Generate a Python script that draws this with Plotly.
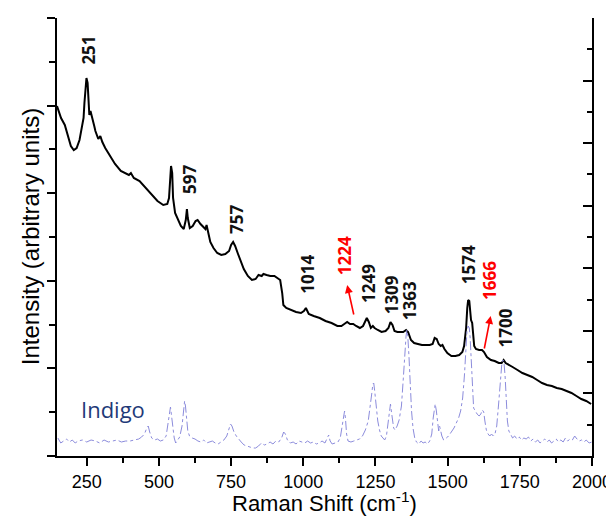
import plotly.graph_objects as go

# Sample spectrum (black)
sample_shift = [147,161,174,184,195,205,215,225,232,239,242,246,249,253,256,259,263,270,276,280,290,297,304,314,331,348,368,386,396,403,413,433,454,474,495,515,529,535,539,542,546,549,556,566,576,586,593,597,600,607,617,627,634,644,655,661,665,672,678,689,702,716,730,743,750,757,764,774,784,794,808,822,835,845,856,862,873,886,900,910,920,927,931,941,958,975,992,1002,1009,1012,1019,1036,1057,1077,1098,1118,1132,1142,1152,1162,1173,1183,1196,1207,1213,1220,1227,1234,1241,1247,1258,1271,1285,1295,1302,1309,1316,1326,1336,1346,1356,1363,1373,1384,1397,1411,1425,1438,1448,1455,1462,1469,1476,1482,1489,1499,1513,1527,1540,1551,1557,1564,1568,1571,1575,1578,1581,1585,1588,1592,1598,1609,1619,1626,1636,1650,1663,1677,1687,1694,1701,1711,1725,1742,1759,1776,1793,1810,1827,1844,1861,1878,1895,1912,1929,1946,1963,1980,1997]
sample_int = [350,338,331,322,310,306,308,316,326,338,353,368,378,373,353,341,345,335,330,325,317,320,314,308,300,292,285,282,281,283,278,275,268,261,255,251,252,258,278,290,283,258,243,236,230,227,236,247,238,228,230,235,236,232,229,227,231,223,214,208,203,201,202,205,211,214,210,202,194,187,180,176,177,181,180,182,181,180,180,178,176,163,151,148,146,144,143,145,148,146,142,140,138,135,133,130,130,132,134,132,132,130,128,130,134,138,134,128,130,128,126,124,125,128,134,131,125,124,124,124,126,124,116,113,112,111,111,111,112,118,117,112,110,111,107,103,100,100,101,104,110,128,148,156,155,148,136,133,123,110,107,106,106,104,99,96,95,93,93,96,93,91,89,86,83,81,79,76,73,71,70,68,67,65,63,60,57,55,52]

# Indigo reference spectrum (dash-dot)
indigo_shift = [150,160,170,180,190,200,210,220,235,250,265,280,295,310,325,340,355,370,385,400,415,430,440,450,458,463,468,475,485,495,505,515,525,532,537,540,543,548,553,558,565,572,580,585,589,592,596,600,606,615,625,635,645,655,665,675,685,695,705,715,725,735,742,748,753,760,768,775,785,795,805,815,825,835,845,855,865,875,885,895,905,915,925,932,938,945,955,965,975,985,995,1005,1015,1025,1035,1045,1055,1065,1075,1082,1088,1093,1100,1110,1120,1128,1134,1140,1143,1146,1150,1155,1165,1175,1185,1195,1205,1215,1225,1232,1237,1241,1244,1247,1252,1258,1264,1270,1276,1282,1288,1294,1299,1302,1305,1309,1313,1318,1325,1332,1340,1347,1352,1356,1359,1362,1366,1370,1375,1380,1386,1392,1400,1408,1415,1422,1430,1438,1445,1450,1454,1457,1461,1465,1469,1472,1475,1480,1486,1492,1500,1508,1515,1522,1530,1538,1545,1552,1558,1563,1567,1571,1575,1578,1582,1586,1590,1596,1602,1609,1615,1620,1625,1629,1634,1640,1646,1652,1658,1664,1670,1676,1682,1687,1691,1695,1699,1703,1707,1712,1718,1725,1732,1740,1748,1756,1764,1772,1780,1788,1796,1804,1812,1820,1828,1836,1844,1852,1860,1868,1876,1884,1892,1900,1908,1916,1924,1932,1940,1948,1956,1964,1972,1980,1990,2000]
indigo_int = [18,13,15,17,14,16,13,15,16,14,16,15,13,16,14,15,16,14,15,15,16,17,19,22,28,30,24,18,16,17,15,16,20,35,47,49,42,28,18,13,16,19,30,45,55,50,35,25,20,18,17,15,14,16,13,14,15,13,12,14,16,20,27,32,30,24,20,17,14,11,10,9,8,8,10,13,11,12,14,12,15,14,18,24,22,16,13,14,12,15,14,13,15,13,14,12,13,15,13,18,21,15,12,13,14,18,28,40,45,38,22,15,14,15,16,17,20,26,35,48,62,72,73,66,48,35,26,20,18,16,20,35,48,52,45,36,28,26,30,36,50,80,105,120,126,120,100,70,45,28,18,14,12,15,13,14,12,15,22,38,50,52,45,32,25,30,26,20,16,17,19,22,25,28,33,38,45,58,80,108,125,130,128,118,90,62,48,45,42,40,42,46,44,35,26,22,20,22,20,22,30,50,75,90,96,94,80,55,35,25,22,18,20,17,19,16,18,17,19,15,17,14,16,13,15,17,14,16,13,15,17,14,16,14,18,15,17,16,20,17,15,16,14,16,13,14]

x_ticks = [250, 500, 750, 1000, 1250, 1500, 1750, 2000]

# Peak labels
peak_text = ["251", "597", "757", "1014", "1224", "1249", "1309", "1363", "1574", "1666", "1700"]
peak_red = [False, False, False, False, True, False, False, False, False, True, False]
label_x = [253, 604, 767, 1012, 1142, 1224, 1305, 1367, 1571, 1643, 1697]
label_y = [406, 277, 236, 182, 200, 173, 161, 155, 191, 176, 128]

# Red arrows (tail -> head)
arrow_tail = [(1176, 140), (1626, 106)]
arrow_head = [(1152, 171), (1649, 140)]

YMAX = 438.0

fig = go.Figure()
fig.add_trace(go.Scatter(x=indigo_shift, y=indigo_int, mode="lines", yaxis="y2",
                         line=dict(color="#8c8cdc", width=1, dash="dashdot"),
                         showlegend=False, hoverinfo="skip"))
fig.add_trace(go.Scatter(x=sample_shift, y=sample_int, mode="lines",
                         line=dict(color="black", width=2),
                         showlegend=False, hoverinfo="skip"))

annotations = []
for t, red, lx, ly in zip(peak_text, peak_red, label_x, label_y):
    annotations.append(dict(x=lx, y=ly, xref="x", yref="y", text="<b>%s</b>" % t,
                            showarrow=False, textangle=-90,
                            font=dict(family="Open Sans", size=17,
                                      color="#ff0000" if red else "#111111")))
for (tx, ty), (hx, hy) in zip(arrow_tail, arrow_head):
    annotations.append(dict(x=hx, y=hy, xref="x", yref="y", ax=tx, ay=ty,
                            axref="x", ayref="y", text="", showarrow=True,
                            arrowhead=2, arrowsize=1, arrowwidth=1.6,
                            arrowcolor="#ff0000"))
annotations.append(dict(x=341, y=47, xref="x", yref="y", text="Indigo",
                        showarrow=False, font=dict(family="Open Sans", size=22, color="#1f3a78")))
# Axis titles
annotations.append(dict(x=0.5, y=-0.104, xref="paper", yref="paper", yanchor="middle",
                        text="Raman Shift (cm<sup>-1</sup>)", showarrow=False,
                        font=dict(family="Liberation Sans, Arial", size=22, color="black")))
annotations.append(dict(x=-0.05, y=0.5, xref="paper", yref="paper", xanchor="center",
                        text="Intensity (arbitrary units)", showarrow=False, textangle=-90,
                        font=dict(family="Liberation Sans, Arial", size=24, color="black")))

fig.update_layout(
    width=614, height=518,
    margin=dict(l=49, r=21, t=10, b=70),
    paper_bgcolor="white", plot_bgcolor="white",
    font=dict(family="Liberation Sans, Arial", color="black"),
    annotations=annotations,
    xaxis=dict(range=[147, 2000], tickvals=x_ticks, ticks="outside", ticklen=8,
               tickwidth=1.5, tickcolor="black",
               minor=dict(tickvals=[375, 625, 875, 1125, 1375, 1625, 1875], ticks="outside",
                          ticklen=5, tickwidth=1.5, tickcolor="black"),
               showline=True, linecolor="black", linewidth=2, showgrid=False, zeroline=False,
               tickfont=dict(size=18, family="Liberation Sans, Arial")),
    yaxis=dict(range=[0, YMAX], tick0=0, dtick=YMAX / 5, ticks="outside", ticklen=8,
               tickwidth=1.5, tickcolor="black", showticklabels=False,
               minor=dict(tick0=0, dtick=YMAX / 10, ticks="outside", ticklen=6,
                          tickwidth=1.5, tickcolor="black"),
               showline=True, linecolor="black", linewidth=2, showgrid=False, zeroline=False),
    yaxis2=dict(range=[0, YMAX], overlaying="y", side="right", tick0=0, dtick=YMAX / 7,
                ticks="inside", ticklen=9, tickwidth=1.5, tickcolor="black", showticklabels=False,
                minor=dict(tick0=0, dtick=YMAX / 14, ticks="inside", ticklen=5,
                           tickwidth=1.5, tickcolor="black"),
                showline=True, linecolor="black", linewidth=2, showgrid=False, zeroline=False),
)

fig.write_html("out.html")
